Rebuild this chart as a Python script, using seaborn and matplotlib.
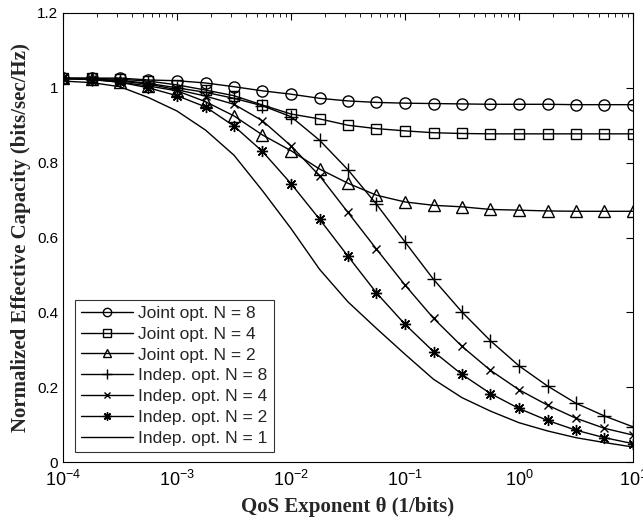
import matplotlib
matplotlib.use("Agg")
import matplotlib.pyplot as plt
import seaborn as sns
from matplotlib.ticker import LogLocator, FixedLocator

# QoS exponent grid (quarter decades from 1e-4 to 1e1)
theta = [1e-4, 1.78e-4, 3.16e-4, 5.62e-4,
         1e-3, 1.78e-3, 3.16e-3, 5.62e-3,
         1e-2, 1.78e-2, 3.16e-2, 5.62e-2,
         1e-1, 1.78e-1, 3.16e-1, 5.62e-1,
         1e0, 1.78e0, 3.16e0, 5.62e0,
         1e1]

joint_n8 = [1.026, 1.026, 1.026, 1.021, 1.019, 1.013, 1.003, 0.992, 0.983, 0.972,
            0.965, 0.961, 0.959, 0.958, 0.957, 0.956, 0.956, 0.956, 0.955, 0.955, 0.955]
joint_n4 = [1.026, 1.025, 1.023, 1.018, 1.008, 0.994, 0.979, 0.954, 0.930, 0.917,
            0.900, 0.891, 0.885, 0.880, 0.878, 0.877, 0.877, 0.877, 0.877, 0.877, 0.877]
joint_n2 = [1.025, 1.023, 1.015, 1.005, 0.992, 0.963, 0.925, 0.874, 0.832, 0.783,
            0.745, 0.713, 0.695, 0.686, 0.682, 0.675, 0.673, 0.671, 0.670, 0.670, 0.670]
indep_n8 = [1.025, 1.023, 1.020, 1.012, 1.000, 0.988, 0.972, 0.952, 0.923, 0.860,
            0.781, 0.689, 0.588, 0.488, 0.401, 0.324, 0.257, 0.203, 0.157, 0.123, 0.094]
indep_n4 = [1.025, 1.023, 1.018, 1.010, 0.995, 0.978, 0.956, 0.912, 0.845, 0.765,
            0.667, 0.569, 0.473, 0.384, 0.309, 0.245, 0.193, 0.152, 0.117, 0.090, 0.072]
indep_n2 = [1.025, 1.022, 1.015, 1.000, 0.979, 0.949, 0.898, 0.830, 0.744, 0.649,
            0.550, 0.452, 0.368, 0.295, 0.234, 0.183, 0.143, 0.111, 0.085, 0.065, 0.049]
indep_n1 = [1.018, 1.014, 1.003, 0.974, 0.938, 0.887, 0.820, 0.725, 0.624, 0.515,
            0.428, 0.357, 0.288, 0.221, 0.172, 0.136, 0.105, 0.083, 0.065, 0.052, 0.040]

# matlab-style asterisk: 8 line arms
ASTERISK = (8, 2, 0)

series = [
    ("Joint opt. N = 8", joint_n8, "o"),
    ("Joint opt. N = 4", joint_n4, "s"),
    ("Joint opt. N = 2", joint_n2, "^"),
    ("Indep. opt. N = 8", indep_n8, "+"),
    ("Indep. opt. N = 4", indep_n4, "x"),
    ("Indep. opt. N = 2", indep_n2, ASTERISK),
    ("Indep. opt. N = 1", indep_n1, None),
]
msizes = {"o": 8, "s": 7, "^": 8, "+": 10, "x": 6, ASTERISK: 8}

sns.set_style("white")
plt.rcParams["font.family"] = ["Liberation Sans", "DejaVu Sans"]
plt.rcParams["mathtext.fontset"] = "custom"
plt.rcParams["mathtext.rm"] = "Liberation Sans"
plt.rcParams["mathtext.it"] = "Liberation Sans:italic"

fig = plt.figure(figsize=(6.43, 5.27), dpi=100)
ax = fig.add_axes([63 / 643, 1 - 462 / 527, 570 / 643, 449 / 527])

for label, vals, mk in series:
    kw = dict(color="black", linewidth=1.0)
    if mk is not None:
        kw.update(marker=mk, markersize=msizes[mk], markeredgewidth=1.0,
                  markeredgecolor="black", markerfacecolor="none")
    sns.lineplot(x=theta, y=vals, ax=ax, label=label, **kw)

ax.set_xscale("log")
ax.set_xlim(1e-4, 10)
ax.set_ylim(0, 1.2)
ax.yaxis.set_major_locator(FixedLocator([0, 0.2, 0.4, 0.6, 0.8, 1.0, 1.2]))
ax.set_yticklabels(["0", "0.2", "0.4", "0.6", "0.8", "1", "1.2"])
ax.xaxis.set_major_locator(LogLocator(base=10, numticks=10))
ax.xaxis.set_minor_locator(LogLocator(base=10, subs=range(2, 10), numticks=20))

ax.tick_params(axis="both", which="both", direction="in", top=True, right=True,
               colors="black")
ax.tick_params(axis="y", labelsize=11)
ax.tick_params(axis="x", labelsize=13, pad=6)
ax.tick_params(which="major", length=5, width=0.8)
ax.tick_params(which="minor", length=3, width=0.6)
for sp in ax.spines.values():
    sp.set_color("black")
    sp.set_linewidth(0.8)

ax.set_xlabel("QoS Exponent \u03b8 (1/bits)", fontsize=15, fontweight="bold",
              family=["Liberation Serif", "DejaVu Serif"], labelpad=5)
ax.set_ylabel("Normalized Effective Capacity (bits/sec/Hz)", fontsize=15,
              fontweight="bold", family=["Liberation Serif", "DejaVu Serif"], labelpad=4)

leg = ax.legend(loc="lower left", bbox_to_anchor=(0.021, 0.022), borderaxespad=0,
                fontsize=12.5, frameon=True, fancybox=False, handlelength=3.0,
                labelspacing=0.33, borderpad=0.35, handletextpad=0.3, markerscale=0.75)
leg.get_frame().set_edgecolor("black")
leg.get_frame().set_linewidth(0.8)

fig.savefig("out.png", dpi=100)
